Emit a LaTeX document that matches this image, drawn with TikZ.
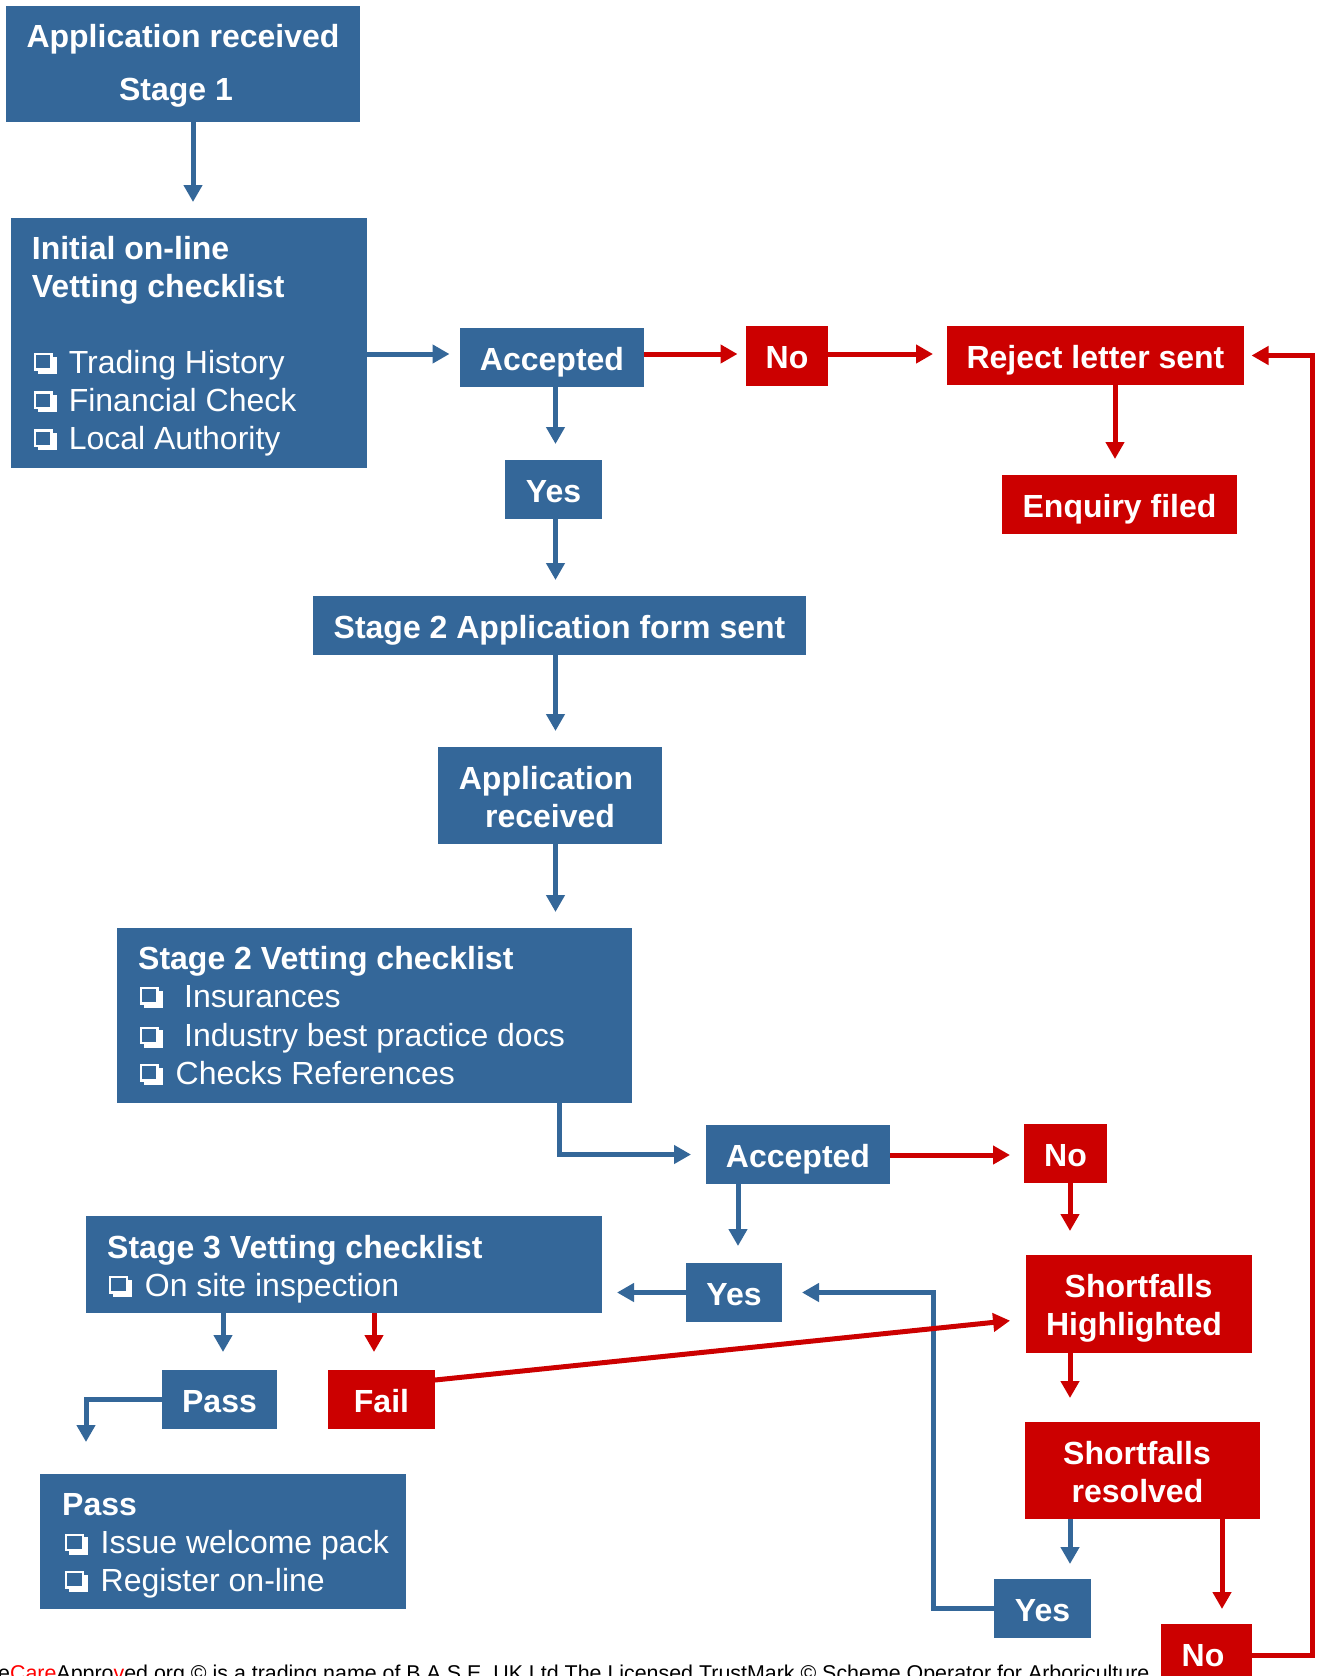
\documentclass[tikz,border=0pt]{standalone}
\usepackage{fontspec}
\setmainfont{Liberation Sans}
\usetikzlibrary{arrows.meta,fit,calc}
\definecolor{bl}{RGB}{52,103,153}
\definecolor{rd}{RGB}{204,0,0}
\definecolor{fred}{RGB}{255,0,0}
\tikzset{
  box/.style={inner sep=0pt, outer sep=0pt, draw=none},
  bbox/.style={box, fill=bl},
  rbox/.style={box, fill=rd},
  ctext/.style={inner sep=0pt, anchor=center, text=white,
    font=\bfseries\fontsize{32}{38}\selectfont, text height=23pt, text depth=0pt},
  lbl/.style={inner sep=0pt, anchor=base west, text=white, font=\fontsize{32}{38}\selectfont},
  blbl/.style={lbl, font=\bfseries\fontsize{32}{38}\selectfont},
  clbl/.style={blbl, anchor=base},
  barrow/.style={draw=bl, line width=5pt, -{Triangle[width=18pt,length=17pt]}},
  rarrow/.style={barrow, draw=rd},
  chk/.pic={
    \fill[white] (4,3.5) rectangle (23,21);
    \fill[bl] (0,0) rectangle (19,17.5);
    \draw[white, line width=2.2pt] (1.1,1.1) rectangle (17.9,16.4);
  }
}
\begin{document}
\begin{tikzpicture}[x=1pt,y=-1pt]
\fill[white] (0,0) rectangle (1317,1676);
\useasboundingbox (0,0) rectangle (1317,1676);

% footer
\node[anchor=base west, inner sep=0pt, font=\fontsize{21.4}{26}\selectfont] (foot) at (-2,1680.5)
  {e\textcolor{fred}{Care}Appro\textcolor{fred}{v}ed.org © is a trading name of B.A.S.E. UK Ltd The Licensed TrustMark © Scheme Operator for Arboriculture};

% boxes
\node[bbox, fit={(6,6) (360,122)}] (s1) {};
\node[bbox, fit={(11,218) (367,468)}] (s1check) {};
\node[bbox, fit={(460,328) (644,387)}] (acc1) {};
\node[rbox, fit={(746,326) (828,386)}] (no1) {};
\node[rbox, fit={(947,326) (1244,385)}] (reject) {};
\node[rbox, fit={(1002,475) (1237,534)}] (enquiry) {};
\node[bbox, fit={(505,460) (602,519)}] (yes1) {};
\node[bbox, fit={(313,596) (806,655)}] (s2form) {};
\node[bbox, fit={(438,747) (662,844)}] (apprec2) {};
\node[bbox, fit={(117,928) (632,1103)}] (s2check) {};
\node[bbox, fit={(706,1125) (890,1184)}] (acc2) {};
\node[rbox, fit={(1024,1124) (1107,1183)}] (no2) {};
\node[rbox, fit={(1026,1255) (1252,1353)}] (sh) {};
\node[rbox, fit={(1025,1422) (1260,1519)}] (sr) {};
\node[bbox, fit={(994,1579) (1091,1638)}] (yes3) {};
\node[rbox, fit={(1161,1624) (1252,1720)}] (no3) {};
\node[bbox, fit={(686,1263) (782,1322)}] (yes2) {};
\node[bbox, fit={(86,1216) (602,1313)}] (s3check) {};
\node[bbox, fit={(162,1370) (277,1429)}] (pass) {};
\node[rbox, fit={(328,1370) (435,1429)}] (fail) {};
\node[bbox, fit={(40,1474) (406,1609)}] (passbox) {};

% single-line centred texts
\node[ctext] (tacc1) at ($(acc1.center)+(0,1.5)$) {Accepted};
\node[ctext] (tno1) at ($(no1.center)+(0,1)$) {No};
\node[ctext] (trej) at ($(reject.center)+(0,1.5)$) {Reject letter sent};
\node[ctext] (tenq) at ($(enquiry.center)+(0,1)$) {Enquiry filed};
\node[ctext] (tyes1) at ($(yes1.center)+(0,1)$) {Yes};
\node[ctext] (tform) at ($(s2form.center)+(0,1)$) {Stage 2 Application form sent};
\node[ctext] (tacc2) at ($(acc2.center)+(0,1.5)$) {Accepted};
\node[ctext] (tno2) at ($(no2.center)+(0,1)$) {No};
\node[ctext] (tyes3) at ($(yes3.center)+(0,1)$) {Yes};
\node[ctext] (tyes2) at ($(yes2.center)+(0,1)$) {Yes};
\node[ctext] (tpass) at ($(pass.center)+(0,1)$) {Pass};
\node[ctext] (tfail) at ($(fail.center)+(0,1)$) {Fail};

% multi-line texts
\node[clbl] (t1a) at (183,47.5) {Application received};
\node[clbl] (t1b) at (176,100.7) {Stage 1};

\node[blbl] (t2a) at (31.7,259.6) {Initial on-line};
\node[blbl] (t2b) at (31.7,297.5) {Vetting checklist};
\pic at (33.5,353) {chk};
\node[lbl] (t2c) at (68.6,373) {Trading History};
\pic at (33.5,391.4) {chk};
\node[lbl] (t2d) at (68.6,411.4) {Financial Check};
\pic at (33.5,429.3) {chk};
\node[lbl] (t2e) at (68.6,449.3) {Local Authority};

\node[clbl] (t3a) at (546,789.6) {Application};
\node[clbl] (t3b) at (550,827) {received};

\node[blbl] (t4a) at (138,969.5) {Stage 2 Vetting checklist};
\pic at (139.5,987) {chk};
\node[lbl] (t4b) at (184,1007) {Insurances};
\pic at (139.5,1026.6) {chk};
\node[lbl] (t4c) at (184,1046.6) {Industry best practice docs};
\pic at (139.5,1064) {chk};
\node[lbl] (t4d) at (175.5,1084) {Checks References};

\node[clbl] (t5a) at (1138.5,1297) {Shortfalls};
\node[clbl] (t5b) at (1134,1335) {Highlighted};
\node[clbl] (t6a) at (1137,1464) {Shortfalls};
\node[clbl] (t6b) at (1137.5,1502) {resolved};
\node[clbl] (t7) at (1203,1666) {No};

\node[blbl] (t8a) at (107,1258) {Stage 3 Vetting checklist};
\pic at (109,1276) {chk};
\node[lbl] (t8b) at (144.7,1296) {On site inspection};

\node[blbl] (t9a) at (62,1515) {Pass};
\pic at (65,1533.5) {chk};
\node[lbl] (t9b) at (100.5,1553.5) {Issue welcome pack};
\pic at (65,1571) {chk};
\node[lbl] (t9c) at (100.5,1591) {Register on-line};

% connectors
\draw[barrow, shorten >=16pt] (193,0 |- s1.south) -- (193,0 |- s1check.north);
\draw[barrow, shorten >=10.5pt] (s1check.east |- 0,354) -- (acc1.west |- 0,354);
\draw[rarrow, shorten >=8.5pt] (acc1.east |- 0,354) -- (no1.west |- 0,354);
\draw[rarrow, shorten >=14pt] (no1.east |- 0,354) -- (reject.west |- 0,354);
\draw[rarrow, shorten >=16pt] (1115,0 |- reject.south) -- (1115,0 |- enquiry.north);
\draw[barrow, shorten >=16pt] (555.5,0 |- acc1.south) -- (555.5,0 |- yes1.north);
\draw[barrow, shorten >=16pt] (555.5,0 |- yes1.south) -- (555.5,0 |- s2form.north);
\draw[barrow, shorten >=16pt] (555.5,0 |- s2form.south) -- (555.5,0 |- apprec2.north);
\draw[barrow, shorten >=16pt] (555.5,0 |- apprec2.south) -- (555.5,0 |- s2check.north);
\draw[barrow, shorten >=15pt] (559,0 |- s2check.south) |- (acc2.west);
\draw[rarrow, shorten >=14pt] (acc2.east |- 0,1155) -- (no2.west |- 0,1155);
\draw[rarrow, shorten >=24pt] (1070,0 |- no2.south) -- (1070,0 |- sh.north);
\draw[rarrow, shorten >=24pt] (1070,0 |- sh.south) -- (1070,0 |- sr.north);
\draw[barrow, shorten >=15pt] (1070,0 |- sr.south) -- (1070,0 |- yes3.north);
\draw[rarrow, shorten >=15pt] (1222,0 |- sr.south) -- (1222,0 |- no3.north);
\draw[rarrow, shorten >=7.5pt] (no3.east |- 0,1655) -- (1312,1655) |- (reject.east);
\draw[barrow, shorten >=20pt] (yes3.west) -- (933,0 |- yes3.west) |- (yes2.east);
\draw[barrow, shorten >=15pt] (yes2.west) -- (s3check.east |- yes2.west);
\draw[barrow, shorten >=17pt] (738,0 |- acc2.south) -- (738,0 |- yes2.north);
\draw[barrow, shorten >=18pt] (223,0 |- s3check.south) -- (223,0 |- pass.north);
\draw[rarrow, shorten >=18pt] (374,0 |- s3check.south) -- (374,0 |- fail.north);
\draw[barrow, shorten >=32pt] (pass.west) -| (86,0 |- passbox.north);
\draw[rarrow, shorten >=16pt] ($(fail.north east)+(0,10)$) -- ($(sh.west)+(0,15)$);
\end{tikzpicture}
\end{document}
